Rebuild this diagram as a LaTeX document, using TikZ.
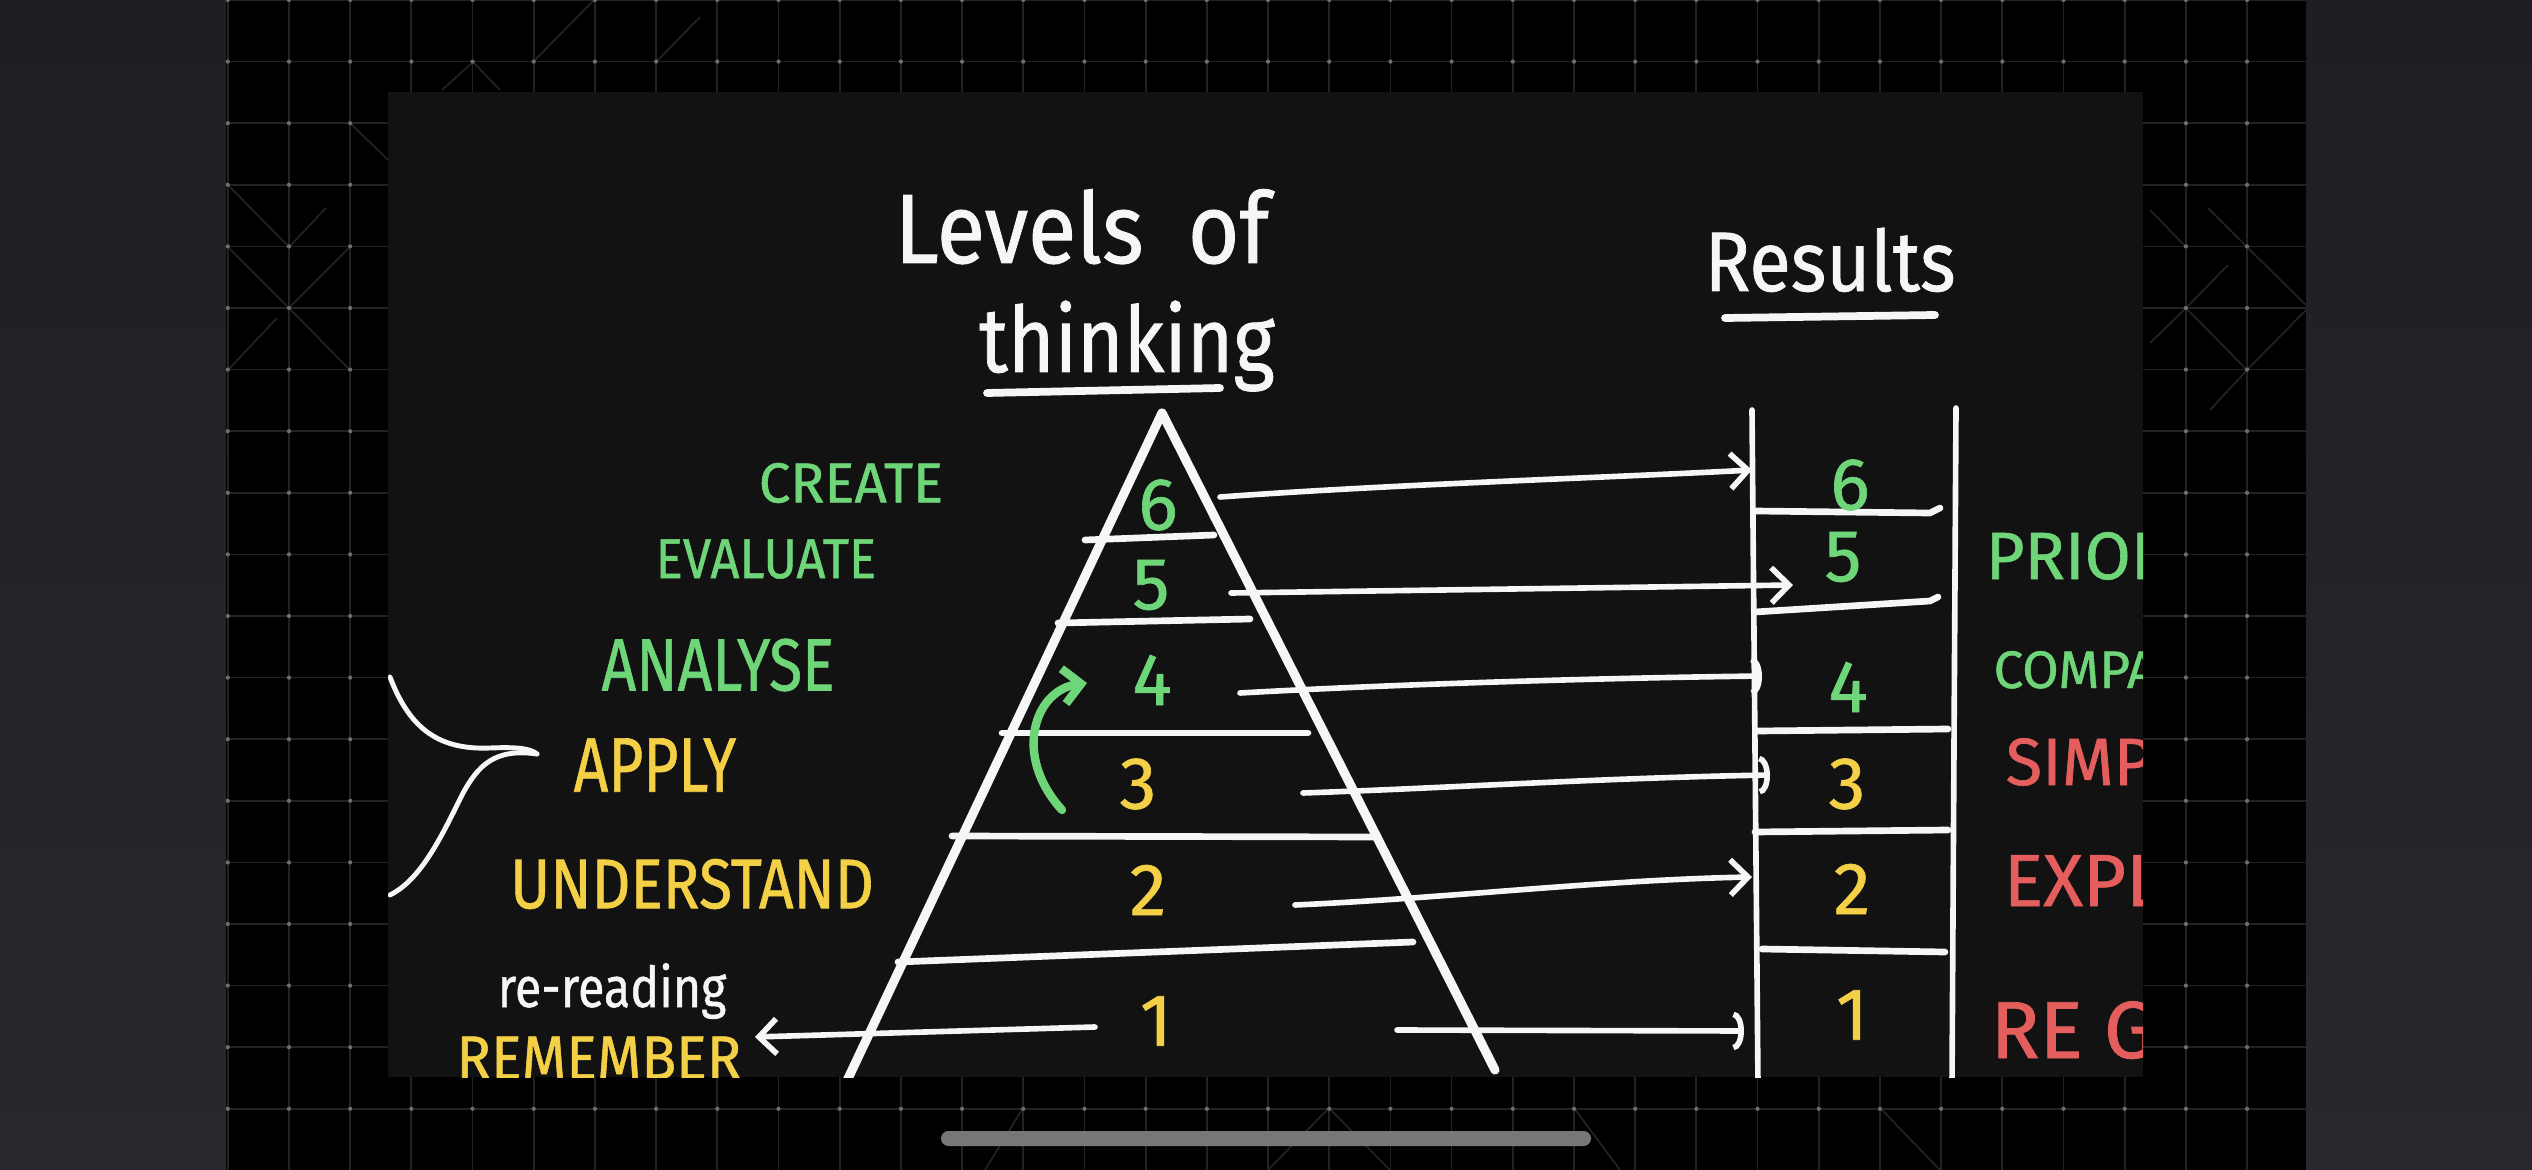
\documentclass[tikz,border=0pt]{standalone}
\usepackage{fontspec}
\setmainfont{Fira Sans}[FakeBold=0.9]
\usepackage{graphicx}
\usetikzlibrary{arrows.meta}
\definecolor{hgreen}{HTML}{6FD579}
\definecolor{hyellow}{HTML}{F4D046}
\definecolor{hred}{HTML}{E35E5C}
\definecolor{chalk}{HTML}{F6F6F6}
\definecolor{panelc}{HTML}{121212}
\definecolor{gridc}{HTML}{222222}
\definecolor{dotc}{HTML}{6E6E6E}
\definecolor{sidetop}{HTML}{1E1F23}
\definecolor{sidebot}{HTML}{27282C}
\definecolor{barc}{HTML}{777777}
\newcommand{\hw}[2]{\scalebox{#1}[1]{#2}}
\tikzset{
  chalkline/.style={draw=chalk, line cap=round, line join=round},
  pyrside/.style={chalkline, line width=2.6pt},
  rung/.style={chalkline, line width=1.9pt},
  colline/.style={chalkline, line width=1.6pt},
  handarrow/.style={chalkline, line width=1.6pt, -{Straight Barb[length=5pt,width=10pt]}},
  roundarrow/.style={chalkline, line width=1.6pt, -{Arc Barb[length=3pt,width=11pt]}},
  num/.style={font=\fontsize{21}{21}\selectfont, inner sep=0pt},
  lab/.style={inner sep=0pt},
  faint/.style={draw=gridc, line width=0.5pt}
}
\begin{document}
\begin{tikzpicture}[x=0.01cm,y=-0.01cm]
\useasboundingbox (0,0) rectangle (2532,1170);
% backgrounds
\fill[black] (0,0) rectangle (2532,1170);
\shade[top color=sidetop,bottom color=sidebot] (0,0) rectangle (226,1170);
\shade[top color=sidetop,bottom color=sidebot] (2306,0) rectangle (2532,1170);
% grid
\foreach \k in {0,...,33} \draw[faint] ({227.8+61.19*\k},0) -- ({227.8+61.19*\k},1170);
\foreach \k in {0,...,18} \draw[faint] (226,{61.6*\k}) -- (2306,{61.6*\k});
\draw[faint] (228,185) -- (289,247) -- (326,208);
\draw[faint] (350,123) -- (388,160);
\draw[faint] (228,247) -- (289,308) -- (350,247);
\draw[faint] (289,308) -- (350,370);
\draw[faint] (228,370) -- (277,318);
\draw[faint] (594,0) -- (533,62);
\draw[faint] (442,90) -- (473,62) -- (500,90);
\draw[faint] (656,62) -- (700,17);
\draw[faint] (2150,210) -- (2186,247);
\draw[faint] (2208,208) -- (2247,247) -- (2306,305);
\draw[faint] (2228,265) -- (2186,308) -- (2150,343);
\draw[faint] (2186,308) -- (2247,370) -- (2306,310);
\draw[faint] (2247,370) -- (2210,410);
\draw[faint] (1329,1108) -- (1390,1170);
\draw[faint] (1329,1108) -- (1268,1170);
\draw[faint] (1023,1108) -- (985,1170);
\draw[faint] (1574,1108) -- (1620,1170);
\draw[faint] (1880,1108) -- (1940,1170);
\foreach \i in {0,...,33} \foreach \j in {0,...,18}
  \fill[dotc] ({227.8+61.19*\i},{61.6*\j}) circle (0.6pt);
% panel
\fill[panelc] (388,92) rectangle (2143,1077);
% home bar
\fill[barc, rounded corners=2.1pt] (941,1131) rectangle (1591,1146);

\begin{scope}
\clip (388,92) rectangle (2143,1077);
% titles
\node[lab, anchor=base, font=\fontsize{28}{28}\selectfont, text=chalk] (title1) at (1082,263) {\hw{0.9}{Levels\hspace{14pt}of}};
\node[lab, anchor=base, font=\fontsize{26}{26}\selectfont, text=chalk] (title2) at (1127,372) {\hw{0.87}{thinking}};
\coordinate (ul1a) at (987,393);
\coordinate (ul1b) at (1220,388);
\draw[chalkline, line width=2.2pt] (ul1a) -- (ul1b);
\node[lab, anchor=base, font=\fontsize{24}{24}\selectfont, text=chalk] (results) at (1830,291) {\hw{0.9}{Results}};
\coordinate (ul2a) at (1725,318);
\coordinate (ul2b) at (1935,315);
\draw[chalkline, line width=2.2pt] (ul2a) -- (ul2b);

% pyramid
\coordinate (pl) at (845,1085);
\coordinate (apex) at (1162,413);
\coordinate (pr) at (1495,1070);
\draw[pyrside] (pl) -- (apex) -- (pr);
\draw[rung] (1085,540) -- (1214,535);
\draw[rung] (1058,623) -- (1250,619);
\draw[rung] (1002,733) -- (1308,733);
\draw[rung] (952,836) -- (1378,837);
\draw[rung] (898,962) -- (1413,942);

% pyramid numbers
\node[num, text=hgreen] (p6) at (1158,505) {6};
\node[num, text=hgreen] (p5) at (1151,585) {5};
\node[num, text=hgreen] (p4) at (1152,680) {4};
\node[num, text=hyellow] (p3) at (1138,784) {3};
\node[num, text=hyellow] (p2) at (1148,890) {2};
\node[num, text=hyellow] (p1) at (1156,1021) {1};

% results column
\draw[colline] (1752,410) -- (1758,1085);
\draw[colline] (1956,408) -- (1952,1085);
\draw[rung] (1755,511) -- (1930,513) -- (1940,508);
\draw[rung] (1755,612) -- (1930,601) -- (1938,597);
\draw[rung] (1758,731) -- (1948,729);
\draw[rung] (1755,832) -- (1948,830);
\draw[rung] (1762,949) -- (1945,952);

% results numbers
\node[num, text=hgreen] (r6) at (1850,485) {6};
\node[num, text=hgreen] (r5) at (1843,557) {5};
\node[num, text=hgreen] (r4) at (1848,687) {4};
\node[num, text=hyellow] (r3) at (1847,784) {3};
\node[num, text=hyellow] (r2) at (1852,889) {2};
\node[num, text=hyellow] (r1) at (1852,1015) {1};

% arrows between
\coordinate (s6) at (1220,497); \coordinate (e6) at (1752,470);
\coordinate (s5) at (1231,593); \coordinate (e5) at (1793,585);
\coordinate (s4) at (1240,693); \coordinate (e4) at (1762,676);
\coordinate (s3) at (1303,793); \coordinate (e3) at (1770,775);
\coordinate (s2) at (1295,905); \coordinate (e2) at (1752,877);
\coordinate (s1) at (1397,1030); \coordinate (e1) at (1744,1031);
\draw[handarrow] (s6) .. controls (1400,484) and (1600,478) .. (e6);
\draw[handarrow] (s5) -- (e5);
\draw[roundarrow] (s4) .. controls (1400,684) and (1600,678) .. (e4);
\draw[roundarrow] (s3) .. controls (1450,788) and (1600,778) .. (e3);
\draw[handarrow] (s2) .. controls (1450,898) and (1600,880) .. (e2);
\draw[roundarrow] (s1) -- (e1);
% arrow to REMEMBER
\coordinate (sl) at (1095,1027);
\coordinate (el) at (755,1037);
\draw[handarrow] (sl) -- (el);

% green curved arrow
\coordinate (ga) at (1062,810);
\coordinate (gb) at (1087,683);
\draw[draw=hgreen, line width=2.4pt, line cap=round, -{Straight Barb[length=5pt,width=10pt]}] (ga) .. controls (1012,755) and (1035,690) .. (gb);

% left labels
\node[lab, text=hgreen, font=\fontsize{16}{16}\selectfont] (create) at (851,483) {\hw{1.0}{CREATE}};
\node[lab, text=hgreen, font=\fontsize{16}{16}\selectfont] (evaluate) at (766,559) {\hw{0.9}{EVALUATE}};
\node[lab, text=hgreen, font=\fontsize{21}{21}\selectfont] (analyse) at (718,665) {\hw{0.82}{ANALYSE}};
\node[lab, text=hyellow, font=\fontsize{22}{22}\selectfont] (apply) at (655,765) {\hw{0.78}{APPLY}};
\node[lab, text=hyellow, font=\fontsize{20}{20}\selectfont] (understand) at (692,884) {\hw{0.86}{UNDERSTAND}};
\node[lab, anchor=base, text=chalk, font=\fontsize{16}{16}\selectfont] (rereading) at (612,1007) {\hw{0.86}{re-reading}};
\node[lab, anchor=base, text=hyellow, font=\fontsize{17.5}{17.5}\selectfont] (remember) at (599,1079) {\hw{0.93}{REMEMBER}};

% brace toward APPLY
\coordinate (bt) at (390,677);
\coordinate (bm) at (537,754);
\coordinate (bb) at (390,895);
\draw[chalkline, line width=1.4pt] (bt) .. controls (410,730) and (440,750) .. (490,748) .. controls (515,747) and (530,748) .. (bm);
\draw[chalkline, line width=1.4pt] (bm) .. controls (495,748) and (478,765) .. (462,795) .. controls (440,840) and (420,880) .. (bb);

% right labels (cut off by the panel edge)
\node[lab, anchor=base west, text=hgreen, font=\fontsize{19}{19}\selectfont] (prior) at (1985,579) {PRIOR};
\node[lab, anchor=base west, text=hgreen, font=\fontsize{15}{15}\selectfont] (compa) at (1993,688) {COMPA};
\node[lab, anchor=base west, text=hred, font=\fontsize{19}{19}\selectfont] (simpl) at (2005,785) {SIMPL};
\node[lab, anchor=base west, text=hred, font=\fontsize{21}{21}\selectfont] (expl) at (2003,906) {EXPL};
\node[lab, anchor=base west, text=hred, font=\fontsize{23}{23}\selectfont] (reg) at (1990,1058) {RE\hspace{6pt}G};
\end{scope}
\end{tikzpicture}
\end{document}
